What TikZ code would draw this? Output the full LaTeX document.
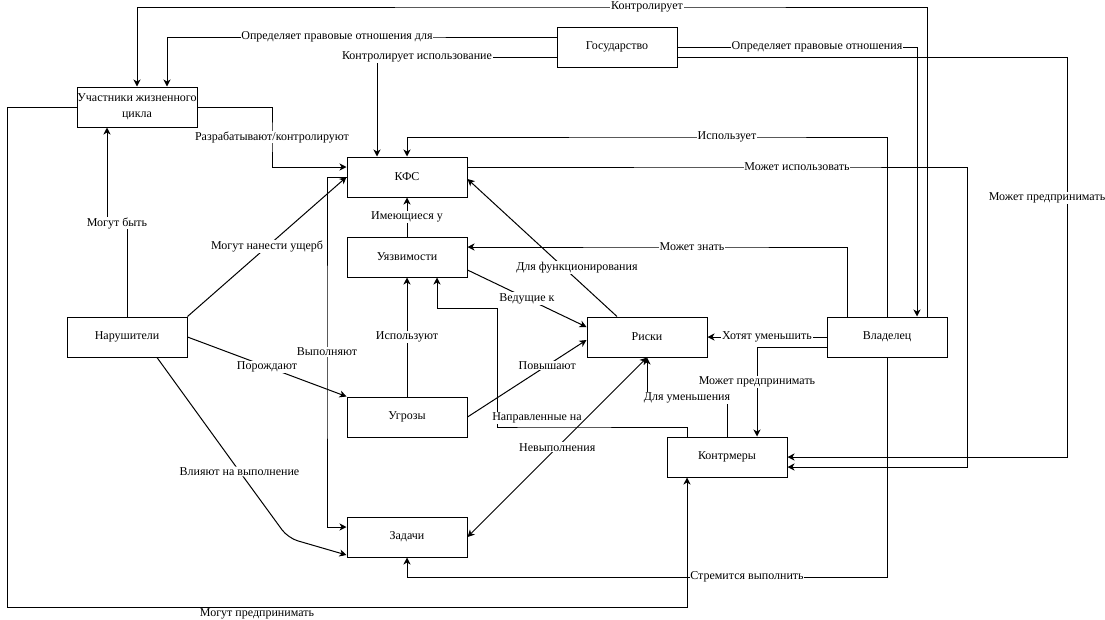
\documentclass[tikz,border=0pt]{standalone}
\usepackage{fontspec}
\setmainfont{Liberation Serif}
\usetikzlibrary{arrows.meta}
\begin{document}
\begin{tikzpicture}[x=1pt,y=-1pt,
  >={Stealth[length=7pt,width=7pt,inset=2pt]},
  box/.style={draw, line width=1pt, minimum width=120pt, minimum height=40pt, inner sep=0pt, align=center, font=\fontsize{12}{16}\selectfont},
  conn/.style={line width=1pt, ->},
  lbl/.style={fill=white, inner sep=0.8pt, font=\fontsize{12}{13}\selectfont}]
\useasboundingbox (0,0) rectangle (1105,619);
\node[box] (gos) at (617,47) {Государство};
\node[box] (uch) at (137,107) {Участники жизненного\\цикла};
\node[box] (kfs) at (407,177) {КФС};
\node[box] (uyaz) at (407,257) {Уязвимости};
\node[box] (nar) at (127,337) {Нарушители};
\node[box] (risk) at (647,337) {Риски};
\node[box] (vlad) at (887,337) {Владелец};
\node[box] (ugr) at (407,417) {Угрозы};
\node[box] (kontr) at (727,457) {Контрмеры};
\node[box] (zad) at (407,537) {Задачи};

\draw[conn] ([xshift=40pt]vlad.north) -- (927,7) -- (647,7) node[lbl]{Контролирует} -- (137,7) -- (uch.north);
\draw[conn] ([yshift=10pt]gos.west) -- (337,37) node[lbl]{Определяет правовые отношения для} -- (167,37) -- ([xshift=30pt]uch.north);
\draw[conn] ([yshift=-10pt]gos.west) -- (417,57) node[lbl]{Контролирует использование} -- (377,57) -- ([xshift=-30pt]kfs.north);
\draw[conn] (gos.east) -- (817,47) node[lbl]{Определяет правовые отношения} -- (917,47) -- ([xshift=30pt]vlad.north);
\draw[conn] ([yshift=-10pt]gos.east) -- (1067,57) -- (1067,198) node[lbl,xshift=-20pt]{Может предпринимать} -- (1067,457) -- (kontr.east);
\draw[conn] (vlad.north) -- (887,137) -- (727,137) node[lbl]{Использует} -- (407,137) -- (kfs.north);
\draw[conn] ([yshift=10pt]kfs.east) -- (797,167) node[lbl]{Может использовать} -- (967,167) -- (967,467) -- ([yshift=-10pt]kontr.east);
\draw[conn] (uch.east) -- (272,107) -- (272,137) node[lbl]{Разрабатывают/контролируют} -- (272,167) -- ([yshift=10pt]kfs.west);
\draw[conn] (nar.north) -- (127,223) -- (117,223) node[lbl]{Могут быть} -- (107,223) -- ([xshift=-30pt]uch.south);
\draw[conn] (nar.north east) -- node[lbl]{Могут нанести ущерб} (kfs.west);
\draw[conn] (kfs.west) -- (327,177) -- (327,352) node[lbl]{Выполняют} -- (327,527) -- ([yshift=10pt]zad.west);
\draw[conn] (nar.east) -- node[lbl]{Порождают} (ugr.north west);
\draw[conn, rounded corners=10pt] ([xshift=30pt]nar.south) -- (239.5,471.5) node[lbl]{Влияют на выполнение} -- (288,538) -- ([yshift=-18pt]zad.west);
\draw[conn] (uyaz.north) -- node[lbl]{Имеющиеся у} (kfs.south);
\draw[conn] (ugr.north) -- node[lbl]{Используют} (uyaz.south);
\draw[conn] ([xshift=-40pt]kontr.north) -- (687,427) -- (537,427) node[lbl,yshift=9pt]{Направленные на} -- (497,427) -- (497,308) -- (437,308) -- ([xshift=30pt]uyaz.south);
\draw[conn] ([yshift=-13pt]uyaz.east) -- node[lbl]{Ведущие к} ([yshift=10pt]risk.west);
\draw[conn] (ugr.east) -- node[lbl,pos=0.67]{Повышают} ([yshift=-3pt]risk.west);
\draw[conn] ([xshift=-30pt]risk.north) -- node[lbl,pos=0.355,xshift=13pt]{Для функционирования} ([yshift=-2pt]kfs.east);
\draw[conn] ([xshift=-40pt]vlad.north) -- (847,247) -- (692,247) node[lbl]{Может знать} -- ([yshift=10pt]uyaz.east);
\draw[conn] (vlad.west) -- node[lbl]{Хотят уменьшить} (risk.east);
\draw[conn] ([yshift=-10pt]vlad.west) -- (757,347) -- (757,382) node[lbl]{Может предпринимать} -- ([xshift=30pt]kontr.north);
\draw[conn] (kontr.north) -- (727,398) -- (687,398) node[lbl]{Для уменьшения} -- (647,398) -- (risk.south);
\draw[line width=1pt, <->] (risk.south) -- node[lbl]{Невыполнения} (zad.east);
\draw[conn] (vlad.south) -- (887,577) -- (747,577) node[lbl]{Стремится выполнить} -- (407,577) -- (zad.south);
\draw[conn] (uch.west) -- (7,107) -- (7,607) -- (257,607) node[lbl,yshift=-7pt]{Могут предпринимать} -- (687,607) -- ([xshift=-40pt]kontr.south);
\end{tikzpicture}
\end{document}
